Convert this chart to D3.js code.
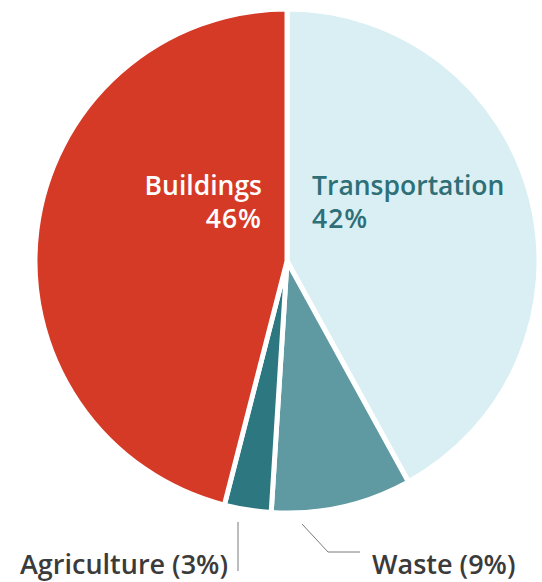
<!DOCTYPE html>
<html>
<head>
<meta charset="utf-8">
<script src="https://cdn.jsdelivr.net/npm/d3@7"></script>
<style>
  html, body { margin: 0; padding: 0; background: #ffffff; }
  svg { display: block; }
  text { font-family: "Open Sans", "Noto Sans", sans-serif; font-weight: 650; }
</style>
</head>
<body>
<svg id="chart" width="542" height="582"></svg>
<script>
// Data (order: clockwise from 12 o'clock)
const categories = ["Transportation", "Waste", "Agriculture", "Buildings"];
const values = [42, 9, 3, 46];
const colors = ["#d9eff3", "#5f9aa2", "#2d7880", "#d53a27"];

const W = 542, H = 582;
const cx = 287, cy = 261, R = 252;

const svg = d3.select("#chart");
const g = svg.append("g").attr("transform", `translate(${cx},${cy})`);

const pie = d3.pie().sort(null).value(d => d.value);
const data = categories.map((c, i) => ({ name: c, value: values[i], color: colors[i] }));
const arcs = pie(data);
const arc = d3.arc().innerRadius(0).outerRadius(R);

g.selectAll("path.slice")
  .data(arcs)
  .join("path")
  .attr("class", "slice")
  .attr("d", arc)
  .attr("fill", d => d.data.color)
  .attr("stroke", "#ffffff")
  .attr("stroke-width", 5)
  .attr("stroke-linejoin", "miter");

// Inside labels
const fs = 26.5;
const bt = svg.append("text").attr("fill", "#ffffff").attr("font-size", fs).attr("text-anchor", "end");
bt.append("tspan").attr("x", cx - 25).attr("y", 195).text("Buildings");
bt.append("tspan").attr("x", cx - 25).attr("y", 228).attr("letter-spacing", 1).text(values[3] + "%");

const tt = svg.append("text").attr("fill", "#2e6f78").attr("font-size", fs).attr("text-anchor", "start");
tt.append("tspan").attr("x", cx + 25).attr("y", 195).text("Transportation");
tt.append("tspan").attr("x", cx + 25).attr("y", 228).attr("letter-spacing", 1).text(values[0] + "%");

// Outside labels with leader lines
const fsb = 27;
svg.append("line")
  .attr("x1", 238).attr("y1", 522).attr("x2", 238).attr("y2", 571)
  .attr("stroke", "#7a7a7a").attr("stroke-width", 1);
svg.append("text").attr("fill", "#3b3b3b").attr("font-size", fsb).attr("text-anchor", "end")
  .attr("x", 228).attr("y", 574).text("Agriculture (" + values[2] + "%)");

svg.append("polyline")
  .attr("points", "302,524 328,552 360,552")
  .attr("fill", "none").attr("stroke", "#7a7a7a").attr("stroke-width", 1);
svg.append("text").attr("fill", "#3b3b3b").attr("font-size", fsb).attr("text-anchor", "start")
  .attr("x", 372).attr("y", 574).text("Waste (" + values[1] + "%)");
</script>
</body>
</html>
